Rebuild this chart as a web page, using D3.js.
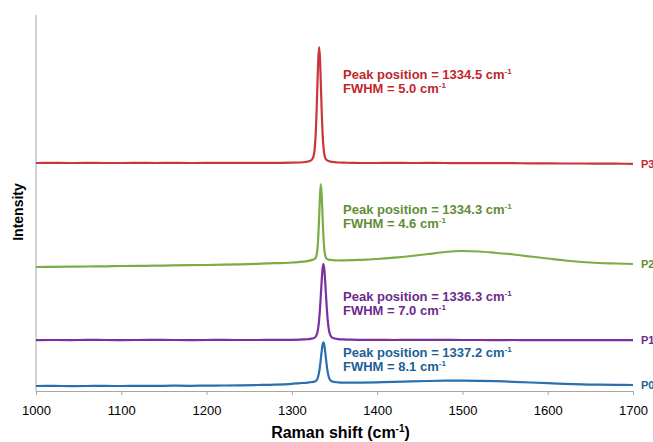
<!DOCTYPE html>
<html><head><meta charset="utf-8">
<script src="https://cdn.jsdelivr.net/npm/d3@7"></script>
<style>
body{margin:0;background:#fff}
text{font-family:"Liberation Sans",Arial,sans-serif}
</style>
</head><body>
<svg id="chart" width="653" height="442"></svg>
<script>
// Raman shift (cm-1), shared by all spectra
const shift=[1000,1020,1040,1060,1080,1100,1120,1140,1160,1180,1200,1220,1240,1260,1280,1300,
1310,1316,1320,1323,1325,1327,
1328,1329,1330,1331,1332,1333,1334,1335,1336,1337,1338,1339,1340,1341,1342,1343,1344,
1346,1348,1350,1354,1360,1370,1380,
1400,1420,1440,1460,1480,1500,1520,1540,1560,1580,1600,1620,1640,1660,1680,1700];

// Intensities (arbitrary units, stacked/offset as in the figure)
const p3=[228,228.1,228,228.1,228,228,228.1,228,228.1,228,228.1,228.1,228.2,228.2,228.2,228.3,
228.5,229,229.7,231,233.6,244.4,
257.9,279.5,307,332.7,344,332.7,307,279.5,257.9,244.4,237,233.6,231.7,231,230.4,230.1,229.7,
229.3,229,228.8,228.5,228.3,228.2,228,
228,228.1,228,228.1,228,227.9,227.9,227.8,227.8,227.7,227.6,227.5,227.5,227.4,227.3,227.2];

const p2=[124,124.2,124.3,124.5,124.6,125,125.1,125.3,125.6,125.8,126,126.3,126.7,127.2,127.8,128.5,
129.2,129.7,130.1,130.9,131.4,132.2,
133.3,136.1,142.1,154.8,174.5,195.8,207,195.8,174.5,154.8,142.1,136.1,133.3,132.2,131.7,131.4,131.1,
131,130.8,130.7,130.5,130.6,130.8,131.2,
132,133.3,135,137,139,140,139.5,138,136.5,134.5,132.5,130.5,129,128,127.5,127];

const p1=[50.8,51,50.9,51.1,51,50.9,51,51.1,51,50.9,51,51.1,51,51,51.1,51.2,
51.4,51.7,51.9,52.3,52.7,53.5,
54.5,56.1,58.8,63.7,71.4,82.4,96.1,110.6,122.4,127,122.4,110.6,96.1,82.4,71.4,63.7,58.8,
54.5,53.1,52.5,51.9,51.6,51.3,51.2,
51.1,51,51.1,51.2,51.1,51,51,50.9,51,50.9,50.8,50.9,50.8,50.9,50.8,50.8];

const p0=[5,5.1,4.9,5,5.1,5,5.2,5.1,5.3,5.2,5.4,5.5,5.7,6,6.4,7.2,
7.9,8.2,8.6,8.9,9.1,9.5,
10.1,10.9,12.4,15,19.1,24.9,32.3,40,46.2,48.7,46.2,40,32.3,24.9,19.1,15,12.4,
10.1,9.3,9,8.7,8.4,8.3,8.4,
8.7,9.1,9.6,10,10.3,10.4,10.2,9.8,9.2,8.5,7.8,7.1,6.6,6.3,6.2,6];

const seriesNames=["P0","P1","P2","P3"];
const peakPosition=["1337.2","1336.3","1334.3","1334.5"];
const fwhm=["8.1","7.0","4.6","5.0"];
const xTicks=[1000,1100,1200,1300,1400,1500,1600,1700];

// ---- drawing ----
const series=[p0,p1,p2,p3];
const lineColors=["#2a6fae","#7b2fa0","#7aad45","#c9363c"];
const textColors=["#215f97","#6c2b8c","#5f8e35","#c1272d"];
const annY=[34,90.5,177,312]; // first-line baseline, in intensity units

const svg=d3.select("#chart");
const x=d3.scaleLinear().domain([1000,1700]).range([36,633]);
const y=d3.scaleLinear().domain([0,376]).range([391,15]);

// axes
const xAxis=d3.axisBottom(x).tickValues(xTicks).tickSize(4).tickSizeOuter(0).tickPadding(11).tickFormat(d3.format("d"));
const gx=svg.append("g").attr("transform",`translate(0,${y(0)})`).call(xAxis);
gx.select(".domain").attr("stroke","#a6a6a6");
gx.selectAll(".tick line").attr("stroke","#a6a6a6");
gx.selectAll(".tick text").attr("font-size",13).attr("fill","#000").attr("font-family","Liberation Sans, Arial, sans-serif");

svg.append("line").attr("x1",x(1000)).attr("x2",x(1000)).attr("y1",y(0)).attr("y2",y(376))
  .attr("stroke","#a6a6a6").attr("stroke-width",1);

// x title
const xt=svg.append("text").attr("x",(x(1000)+x(1700))/2+6).attr("y",438).attr("text-anchor","middle")
  .attr("font-size",16).attr("font-weight","bold").attr("fill","#000");
xt.append("tspan").text("Raman shift (cm");
xt.append("tspan").attr("dy",-6).attr("font-size",10).text("-1");
xt.append("tspan").attr("dy",6).text(")");

// y title
svg.append("text").attr("transform","translate(23,212) rotate(-90)").attr("text-anchor","middle")
  .attr("font-size",14).attr("font-weight","bold").attr("fill","#000").text("Intensity");

// lines
const line=d3.line().x((d,i)=>x(shift[i])).y(d=>y(d)).curve(d3.curveMonotoneX);
series.forEach((s,k)=>{
  svg.append("path").datum(s).attr("d",line).attr("fill","none")
    .attr("stroke",lineColors[k]).attr("stroke-width",2.2).attr("stroke-linejoin","round");
  svg.append("text").attr("x",641).attr("y",y(s[s.length-1])+4)
    .attr("font-size",11).attr("font-weight","bold").attr("fill",textColors[k]).text(seriesNames[k]);
  const t=svg.append("text").attr("x",x(1360)).attr("y",y(annY[k]))
    .attr("font-size",13).attr("font-weight","bold").attr("fill",textColors[k]);
  t.append("tspan").text(`Peak position = ${peakPosition[k]} cm`);
  t.append("tspan").attr("dy",-5).attr("font-size",8).text("-1");
  const t2=svg.append("text").attr("x",x(1360)).attr("y",y(annY[k])+14)
    .attr("font-size",13).attr("font-weight","bold").attr("fill",textColors[k]);
  t2.append("tspan").text(`FWHM = ${fwhm[k]} cm`);
  t2.append("tspan").attr("dy",-5).attr("font-size",8).text("-1");
});
</script>
</body></html>
